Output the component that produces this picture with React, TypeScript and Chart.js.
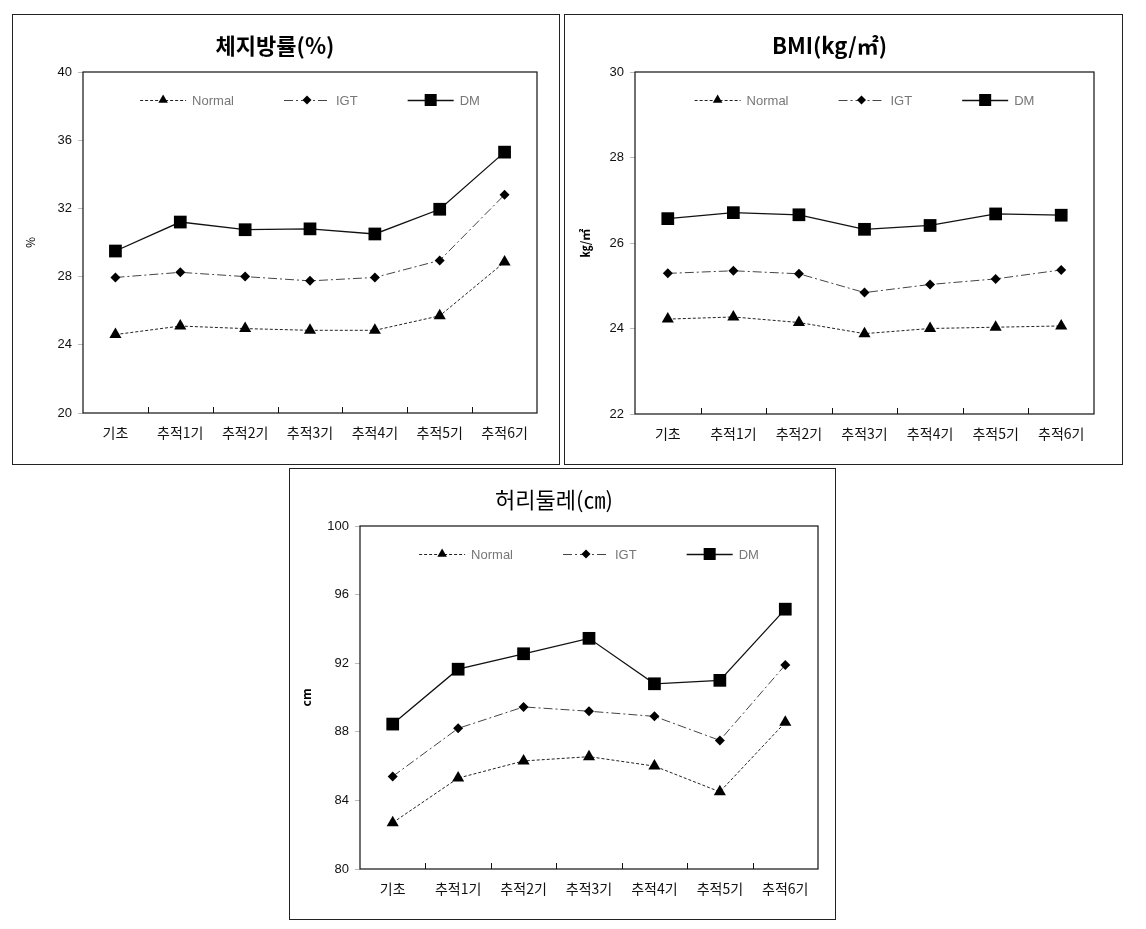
import React, { useEffect, useRef } from "react";
import { Chart, registerables } from "chart.js";

Chart.register(...registerables);

const categories = ["기초", "추적1기", "추적2기", "추적3기", "추적4기", "추적5기", "추적6기"];
const seriesNames = ["Normal", "IGT", "DM"];

const fatNormal = [24.6, 25.1, 24.95, 24.85, 24.85, 25.7, 28.85];
const fatIGT = [27.95, 28.25, 28.0, 27.75, 27.95, 28.95, 32.8];
const fatDM = [29.5, 31.2, 30.75, 30.8, 30.5, 31.95, 35.3];
const fatTicks = [20, 24, 28, 32, 36, 40];

const bmiNormal = [24.22, 24.27, 24.14, 23.88, 24.0, 24.03, 24.06];
const bmiIGT = [25.29, 25.35, 25.28, 24.84, 25.03, 25.16, 25.37];
const bmiDM = [26.57, 26.71, 26.66, 26.32, 26.41, 26.68, 26.65];
const bmiTicks = [22, 24, 26, 28, 30];

const waistNormal = [82.7, 85.3, 86.3, 86.55, 86.0, 84.5, 88.55];
const waistIGT = [85.4, 88.2, 89.45, 89.2, 88.9, 87.5, 91.9];
const waistDM = [88.45, 91.65, 92.55, 93.45, 90.8, 91.0, 95.15];
const waistTicks = [80, 84, 88, 92, 96, 100];

const KR = "'Noto Sans CJK KR', 'Noto Sans', sans-serif";
const AR = "'Liberation Sans', Arial, sans-serif";

function drawMarker(ctx: CanvasRenderingContext2D, style: string, x: number, y: number, r: number) {
  ctx.beginPath();
  if (style === "triangle") {
    for (let i = 0; i < 3; i++) {
      const a = (i * 2 * Math.PI) / 3;
      const px = x + Math.sin(a) * r;
      const py = y - Math.cos(a) * r;
      if (i === 0) ctx.moveTo(px, py);
      else ctx.lineTo(px, py);
    }
    ctx.closePath();
  } else if (style === "rectRot") {
    ctx.moveTo(x, y - r);
    ctx.lineTo(x + r, y);
    ctx.lineTo(x, y + r);
    ctx.lineTo(x - r, y);
    ctx.closePath();
  } else {
    const s = r * Math.SQRT1_2;
    ctx.rect(x - s, y - s, 2 * s, 2 * s);
  }
  ctx.fill();
}

const framePlugin = {
  id: "frame",
  beforeDatasetsDraw(chart: any) {
    const { ctx, chartArea } = chart;
    const xs = chart.scales.x;
    ctx.save();
    ctx.strokeStyle = "#111";
    ctx.lineWidth = 1.2;
    ctx.strokeRect(chartArea.left, chartArea.top, chartArea.right - chartArea.left, chartArea.bottom - chartArea.top);
    ctx.lineWidth = 1;
    const n = chart.data.labels.length;
    for (let i = 1; i < n; i++) {
      const px = Math.round((xs.getPixelForValue(i - 1) + xs.getPixelForValue(i)) / 2) + 0.5;
      ctx.beginPath();
      ctx.moveTo(px, chartArea.bottom);
      ctx.lineTo(px, chartArea.bottom - 6);
      ctx.stroke();
    }
    ctx.restore();
  },
};

const legendPlugin = {
  id: "innerLegend",
  afterDatasetsDraw(chart: any) {
    const { ctx, chartArea } = chart;
    const sampleW = 46;
    const gap = 6;
    const itemGap = 50;
    ctx.save();
    ctx.font = "13px " + AR;
    const items = chart.data.datasets.map((d: any) => ({
      d,
      tw: ctx.measureText(d.label).width,
    }));
    const total = items.reduce((s: number, it: any) => s + sampleW + gap + it.tw, 0) + itemGap * (items.length - 1);
    let x = (chartArea.left + chartArea.right) / 2 - total / 2;
    const y = chartArea.top + 28;
    items.forEach((it: any) => {
      const d = it.d;
      ctx.strokeStyle = d.borderColor;
      ctx.lineWidth = d.borderWidth;
      ctx.setLineDash(d.borderDash || []);
      ctx.beginPath();
      ctx.moveTo(x, y + 0.5);
      ctx.lineTo(x + sampleW, y + 0.5);
      ctx.stroke();
      ctx.setLineDash([]);
      ctx.fillStyle = "#000";
      drawMarker(ctx, d.pointStyle, x + sampleW / 2, y, d.legendRadius);
      ctx.fillStyle = "#777";
      ctx.textBaseline = "middle";
      ctx.textAlign = "left";
      ctx.fillText(d.label, x + sampleW + gap, y + 1);
      x += sampleW + gap + it.tw + itemGap;
    });
    ctx.restore();
  },
};

type PanelProps = {
  left: number;
  top: number;
  width: number;
  height: number;
  title: string;
  titleBold: boolean;
  yTitle: string;
  yTitleBold: boolean;
  yTitlePad: number;
  ticks: number[];
  normal: number[];
  igt: number[];
  dm: number[];
  padRight: number;
  padBottom: number;
};

function Panel(p: PanelProps) {
  const ref = useRef<HTMLCanvasElement>(null);
  useEffect(() => {
    if (!ref.current) return;
    const step = p.ticks[1] - p.ticks[0];
    const chart = new Chart(ref.current, {
      type: "line",
      data: {
        labels: categories,
        datasets: [
          {
            label: seriesNames[0],
            data: p.normal,
            borderColor: "#222",
            borderWidth: 1,
            borderDash: [3, 2],
            pointStyle: "triangle",
            pointRadius: 7,
            legendRadius: 5.5,
            pointBackgroundColor: "#000",
            pointBorderColor: "#000",
            pointBorderWidth: 0,
            tension: 0,
            fill: false,
          } as any,
          {
            label: seriesNames[1],
            data: p.igt,
            borderColor: "#444",
            borderWidth: 1,
            borderDash: [9, 3, 2, 3],
            pointStyle: "rectRot",
            pointRadius: 5,
            legendRadius: 4.5,
            pointBackgroundColor: "#000",
            pointBorderColor: "#000",
            pointBorderWidth: 0,
            tension: 0,
            fill: false,
          } as any,
          {
            label: seriesNames[2],
            data: p.dm,
            borderColor: "#111",
            borderWidth: 1.3,
            pointStyle: "rect",
            pointRadius: 9,
            legendRadius: 8.5,
            pointBackgroundColor: "#000",
            pointBorderColor: "#000",
            pointBorderWidth: 0,
            tension: 0,
            fill: false,
          } as any,
        ],
      },
      options: {
        responsive: false,
        animation: false,
        layout: { padding: { left: 0, right: p.padRight, top: 0, bottom: p.padBottom } },
        plugins: {
          legend: { display: false },
          tooltip: { enabled: false },
          title: {
            display: true,
            text: p.title,
            color: "#000",
            font: { family: KR, size: 22, weight: p.titleBold ? "bold" : "normal", lineHeight: 1.2 },
            padding: { top: 17, bottom: 13.6 },
          },
        },
        scales: {
          x: {
            type: "category",
            offset: true,
            grid: { display: false, offset: true },
            border: { display: false },
            ticks: { color: "#111", font: { family: KR, size: 14 }, padding: 3, maxRotation: 0, autoSkip: false },
            afterFit: (s: any) => {
              s.height = 40;
            },
          },
          y: {
            min: p.ticks[0],
            max: p.ticks[p.ticks.length - 1],
            ticks: { stepSize: step, color: "#111", font: { family: AR, size: 13 }, padding: 6 },
            grid: { drawOnChartArea: false, color: "#bbb", tickLength: 5 },
            border: { display: false },
            title: {
              display: true,
              text: p.yTitle,
              color: "#000",
              font: { family: KR, size: 12, weight: p.yTitleBold ? "bold" : "normal" },
              padding: { top: p.yTitlePad, bottom: 0 },
            },
            afterFit: (s: any) => {
              s.width = 70;
            },
          },
        },
      } as any,
      plugins: [framePlugin, legendPlugin],
    });
    return () => chart.destroy();
  }, []);
  return (
    <div
      style={{
        position: "absolute",
        left: p.left,
        top: p.top,
        width: p.width,
        height: p.height,
        border: "1px solid #222",
        boxSizing: "border-box",
        background: "#fff",
      }}
    >
      <canvas
        ref={ref}
        width={p.width - 2}
        height={p.height - 2}
        style={{ display: "block", width: p.width - 2, height: p.height - 2 }}
      />
    </div>
  );
}

export default function App() {
  return (
    <div style={{ position: "absolute", left: 0, top: 0, width: 1146, height: 929, background: "#fff" }}>
      <Panel
        left={12}
        top={14}
        width={548}
        height={451}
        title="체지방률(%)"
        titleBold={true}
        yTitle="%"
        yTitleBold={false}
        yTitlePad={10}
        ticks={fatTicks}
        normal={fatNormal}
        igt={fatIGT}
        dm={fatDM}
        padRight={22}
        padBottom={11}
      />
      <Panel
        left={564}
        top={14}
        width={559}
        height={451}
        title="BMI(kg/㎡)"
        titleBold={true}
        yTitle="㎏/㎡"
        yTitleBold={true}
        yTitlePad={13}
        ticks={bmiTicks}
        normal={bmiNormal}
        igt={bmiIGT}
        dm={bmiDM}
        padRight={28}
        padBottom={10}
      />
      <Panel
        left={289}
        top={468}
        width={547}
        height={452}
        title="허리둘레(㎝)"
        titleBold={false}
        yTitle="cm"
        yTitleBold={true}
        yTitlePad={9}
        ticks={waistTicks}
        normal={waistNormal}
        igt={waistIGT}
        dm={waistDM}
        padRight={17}
        padBottom={10}
      />
    </div>
  );
}
